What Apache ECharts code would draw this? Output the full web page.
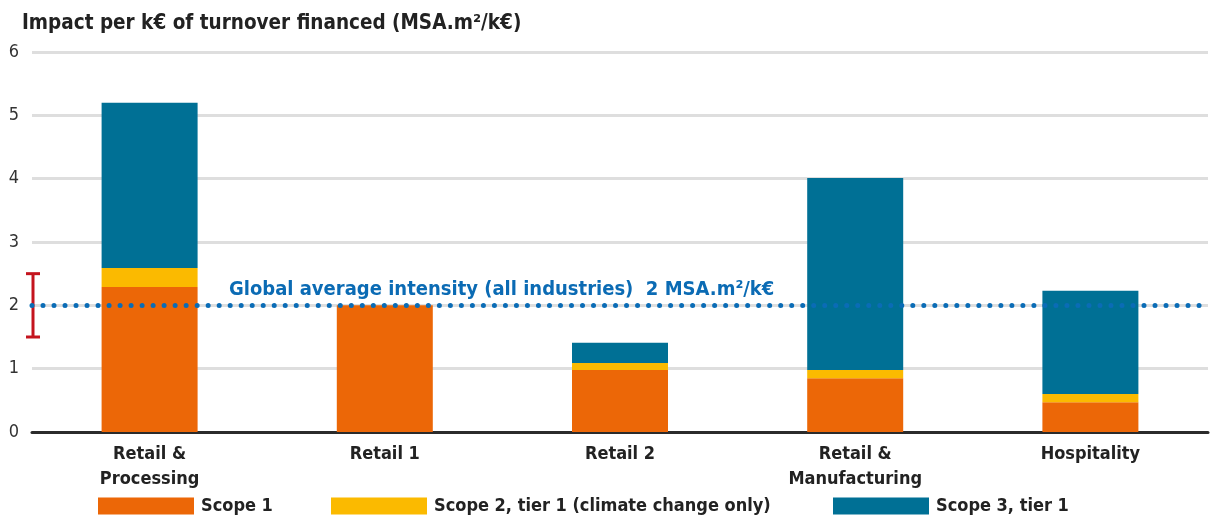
<!DOCTYPE html>
<html>
<head>
<meta charset="utf-8">
<script src="https://cdn.jsdelivr.net/npm/echarts@6/dist/echarts.min.js"></script>
<style>
  html, body { margin: 0; padding: 0; background: #ffffff; }
  #chart { width: 1217px; height: 522px; }
</style>
</head>
<body>
<div id="chart"></div>
<script>
// Impact intensity per sector, split by scope (MSA.m²/k€)
const categories = ['Retail &\nProcessing', 'Retail 1', 'Retail 2', 'Retail &\nManufacturing', 'Hospitality'];
const scope1 = [2.29, 2.00, 0.98, 0.85, 0.47];
const scope2 = [0.30, 0.00, 0.11, 0.13, 0.13];
const scope3 = [2.61, 0.00, 0.32, 3.03, 1.63];
const seriesNames = ['Scope 1', 'Scope 2, tier 1 (climate change only)', 'Scope 3, tier 1'];
const globalAverage = 2;
const averageRange = [1.5, 2.5];
const yMin = 0, yMax = 6, yStep = 1;
const titleText = 'Impact per k€ of turnover financed (MSA.m²/k€)';
const averageLabel = 'Global average intensity (all industries)  2 MSA.m²/k€';

const FONT = "'Liberation Sans Narrow', 'DejaVu Sans Condensed', 'Noto Sans', sans-serif";
const colors = ['#ec6707', '#fbba00', '#007095'];
const textDark = '#222222';

const chart = echarts.init(document.getElementById('chart'), null, { renderer: 'canvas' });

const legendSpots = [98, 331, 833];

chart.setOption({
  animation: false,
  textStyle: { fontFamily: FONT },
  title: {
    text: titleText,
    left: 17,
    top: 8,
    textStyle: { fontFamily: FONT, fontWeight: 'bold', fontSize: 20.5, color: textDark }
  },
  legend: seriesNames.map((name, i) => ({
    data: [name],
    left: legendSpots[i],
    top: 497,
    itemWidth: 96,
    itemHeight: 17,
    itemGap: 0,
    padding: 0,
    selectedMode: false,
    icon: 'rect',
    textStyle: { fontFamily: FONT, fontWeight: 'bold', fontSize: 18, color: textDark, padding: [0, 0, 0, 2] }
  })),
  grid: { left: 32, right: 9, top: 52, bottom: 90, containLabel: false },
  xAxis: {
    type: 'category',
    data: categories,
    axisLine: { show: true, lineStyle: { color: '#2b2b2b', width: 3 } },
    axisTick: { show: false },
    axisLabel: {
      interval: 0,
      margin: 10,
      fontFamily: FONT,
      fontWeight: 'bold',
      fontSize: 18,
      lineHeight: 25,
      color: textDark
    },
    splitLine: { show: false }
  },
  yAxis: {
    type: 'value',
    min: yMin,
    max: yMax,
    interval: yStep,
    axisLine: { show: false },
    axisTick: { show: false },
    axisLabel: { margin: 13, fontFamily: FONT, fontSize: 18, color: '#333333' },
    splitLine: { show: true, lineStyle: { color: '#dedede', width: 3 } }
  },
  series: [
    {
      name: seriesNames[0],
      type: 'bar',
      stack: 'total',
      barWidth: 96,
      data: scope1,
      itemStyle: { color: colors[0] },
      markLine: {
        silent: true,
        symbol: 'none',
        z: 10,
        data: [{ yAxis: globalAverage }],
        lineStyle: { color: '#0a6cb6', width: 5, type: [0.01, 11], cap: 'round' },
        label: {
          show: true,
          position: 'insideStartTop',
          distance: [197, 6],
          formatter: averageLabel,
          fontFamily: FONT,
          fontWeight: 'bold',
          fontSize: 20,
          color: '#0b6bb4'
        }
      }
    },
    {
      name: seriesNames[1],
      type: 'bar',
      stack: 'total',
      barWidth: 96,
      data: scope2,
      itemStyle: { color: colors[1] }
    },
    {
      name: seriesNames[2],
      type: 'bar',
      stack: 'total',
      barWidth: 96,
      data: scope3,
      itemStyle: { color: colors[2] }
    },
    {
      // range bracket around the global average
      type: 'custom',
      silent: true,
      z: 6,
      clip: false,
      encode: { x: 0, y: [1, 2] },
      data: [[0, averageRange[0], averageRange[1]]],
      renderItem: function (params, api) {
        const lo = api.coord([0, api.value(1)]);
        const hi = api.coord([0, api.value(2)]);
        const x = params.coordSys.x + 1;
        const half = 7;
        const style = { stroke: '#c4141e', lineWidth: 3 };
        return {
          type: 'group',
          children: [
            { type: 'line', shape: { x1: x, y1: lo[1], x2: x, y2: hi[1] }, style: style },
            { type: 'line', shape: { x1: x - half, y1: lo[1], x2: x + half, y2: lo[1] }, style: style },
            { type: 'line', shape: { x1: x - half, y1: hi[1], x2: x + half, y2: hi[1] }, style: style }
          ]
        };
      }
    }
  ]
});
</script>
</body>
</html>
